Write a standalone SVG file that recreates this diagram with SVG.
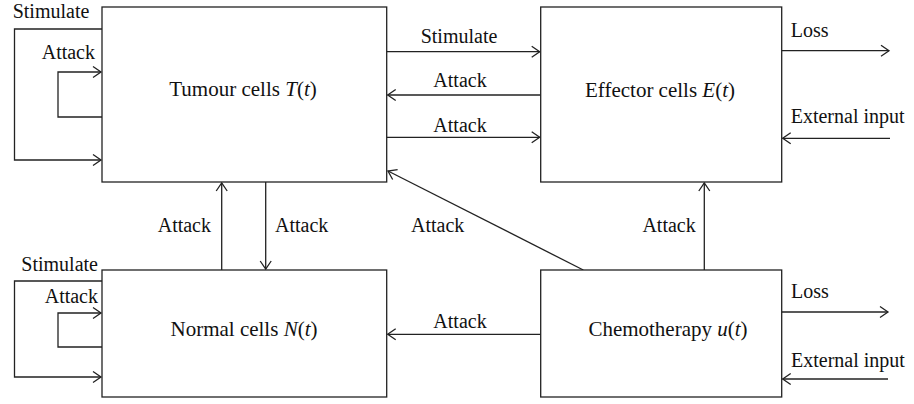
<svg xmlns="http://www.w3.org/2000/svg" width="914" height="404" viewBox="0 0 914 404">
<style>
.box{fill:#fff;stroke:#222;stroke-width:1.3}
.ln{fill:none;stroke:#222;stroke-width:1.3}
.t{font-family:"Liberation Serif","Times New Roman",serif;font-size:20px;fill:#111}
.big{font-size:21px}
.i{font-style:italic}
.m{text-anchor:middle}
.e{text-anchor:end}
</style>
<defs>
<marker id="ah" markerUnits="userSpaceOnUse" markerWidth="14" markerHeight="14" refX="0" refY="0" viewBox="-10 -7 12 14" orient="auto" overflow="visible">
<path d="M-8,-5.5 L0,0 L-8,5.5" fill="none" stroke="#222" stroke-width="1.3"/>
</marker>
</defs>
<rect width="914" height="404" fill="#fff"/>
<g id="connectors">
<polyline class="ln" points="102,29 14.5,29 14.5,160 101,160" marker-end="url(#ah)"/>
<polyline class="ln" points="102,117 58,117 58,72 101,72" marker-end="url(#ah)"/>
<polyline class="ln" points="102,281 14.5,281 14.5,377 101,377" marker-end="url(#ah)"/>
<polyline class="ln" points="102,347 58,347 58,313 101,313" marker-end="url(#ah)"/>
<line class="ln" x1="386.7" y1="51.7" x2="539.7" y2="51.7" marker-end="url(#ah)"/>
<line class="ln" x1="540.7" y1="95" x2="387.7" y2="95" marker-end="url(#ah)"/>
<line class="ln" x1="386.7" y1="137.3" x2="539.7" y2="137.3" marker-end="url(#ah)"/>
<line class="ln" x1="781.7" y1="50.7" x2="889" y2="50.7" marker-end="url(#ah)"/>
<line class="ln" x1="890" y1="138.3" x2="782.7" y2="138.3" marker-end="url(#ah)"/>
<line class="ln" x1="781.7" y1="312" x2="888" y2="312" marker-end="url(#ah)"/>
<line class="ln" x1="888" y1="379" x2="782.7" y2="379" marker-end="url(#ah)"/>
<line class="ln" x1="221.7" y1="270" x2="221.7" y2="183" marker-end="url(#ah)"/>
<line class="ln" x1="265.7" y1="182" x2="265.7" y2="269" marker-end="url(#ah)"/>
<line class="ln" x1="583.3" y1="270" x2="388" y2="171" marker-end="url(#ah)"/>
<line class="ln" x1="704.3" y1="270" x2="704.3" y2="183" marker-end="url(#ah)"/>
<line class="ln" x1="540.7" y1="334.3" x2="387.7" y2="334.3" marker-end="url(#ah)"/>
</g>
<g id="tumour">
<rect class="box" x="102" y="7" width="284.7" height="175"/>
<text class="t big m" x="243" y="96">Tumour cells <tspan class="i">T</tspan>(<tspan class="i">t</tspan>)</text>
</g>
<g id="effector">
<rect class="box" x="540.7" y="7" width="241" height="175"/>
<text class="t big m" x="660" y="97">Effector cells <tspan class="i">E</tspan>(<tspan class="i">t</tspan>)</text>
</g>
<g id="normal">
<rect class="box" x="102" y="270" width="284.7" height="127"/>
<text class="t big m" x="244" y="336">Normal cells <tspan class="i">N</tspan>(<tspan class="i">t</tspan>)</text>
</g>
<g id="chemo">
<rect class="box" x="540.7" y="270" width="241" height="127"/>
<text class="t big m" x="668" y="336">Chemotherapy <tspan class="i">u</tspan>(<tspan class="i">t</tspan>)</text>
</g>
<g id="labels">
<text class="t m" x="51" y="18">Stimulate</text>
<text class="t e" x="95" y="59">Attack</text>
<text class="t e" x="98" y="271">Stimulate</text>
<text class="t e" x="98" y="303">Attack</text>
<text class="t m" x="459" y="43">Stimulate</text>
<text class="t m" x="460" y="87">Attack</text>
<text class="t m" x="460" y="132">Attack</text>
<text class="t" x="790.7" y="37">Loss</text>
<text class="t" x="790.7" y="123">External input</text>
<text class="t" x="791" y="298">Loss</text>
<text class="t" x="791" y="367">External input</text>
<text class="t e" x="211" y="232">Attack</text>
<text class="t" x="275" y="232">Attack</text>
<text class="t" x="411" y="232">Attack</text>
<text class="t e" x="695.7" y="232">Attack</text>
<text class="t m" x="460" y="328">Attack</text>
</g>
</svg>
